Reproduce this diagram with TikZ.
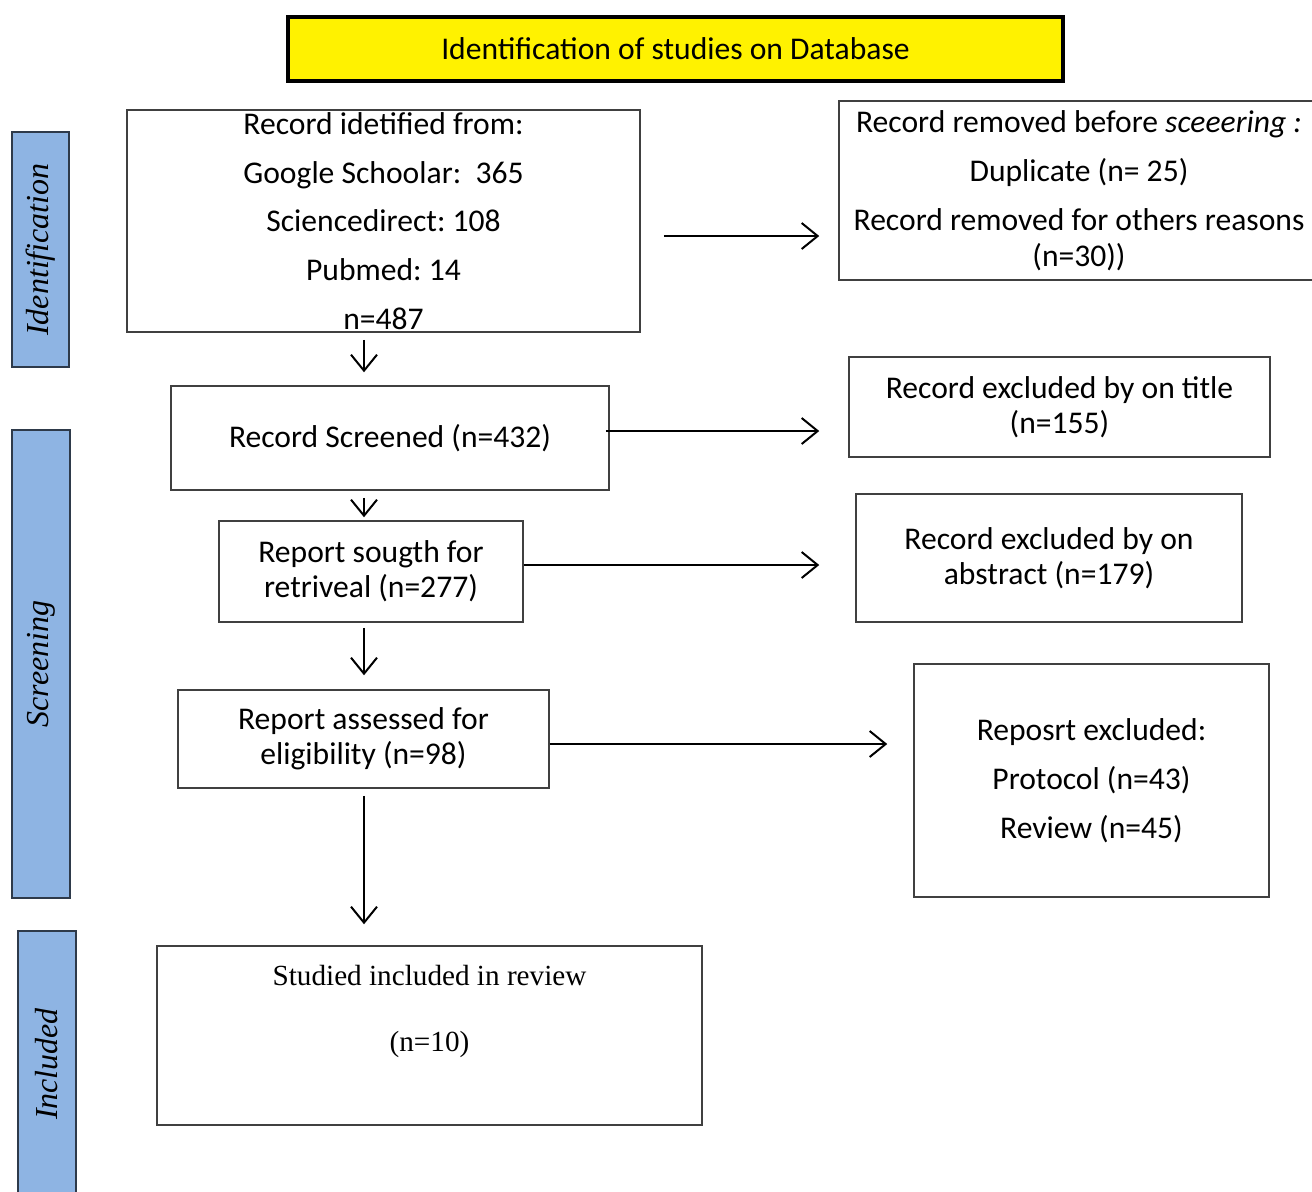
\documentclass[tikz,border=0pt]{standalone}
\usepackage{fontspec}
\setmainfont{Carlito}
\newfontfamily\tms{Liberation Serif}
\usepackage{tikz}
\usetikzlibrary{arrows.meta}

\definecolor{boxgray}{HTML}{404040}
\definecolor{phaseblue}{HTML}{8EB4E3}
\definecolor{phaseline}{HTML}{2E3A4A}

\begin{document}
\frenchspacing
\begin{tikzpicture}[x=0.5pt, y=-0.5pt, >={Straight Barb[length=8pt,width=13pt]}]
  \tikzstyle{box}=[draw=boxgray, line width=0.75pt, align=center, inner sep=0pt,
                   font=\fontsize{15.8}{17.5}\selectfont]
  \tikzstyle{phase}=[draw=phaseline, line width=0.75pt, fill=phaseblue, rotate=90,
                     inner sep=0pt, font=\tms\itshape\fontsize{16}{16}\selectfont]
  \tikzstyle{arr}=[->, line width=1pt]

  \clip (0,0) rectangle (1312,1191);

  % title
  \node[draw=black, line width=2pt, fill=yellow, minimum width=387.5pt, minimum height=32pt,
        font=\fontsize{15.8}{17.5}\selectfont] (db) at (675.5,49) {Identification of studies on Database};

  % phases
  \node[phase, minimum width=117.5pt, minimum height=28.5pt] (pid) at (40.5,249.5) {Identification};
  \node[phase, minimum width=234pt, minimum height=29pt]     (pscr) at (41,664) {Screening};
  \node[phase, minimum width=133pt, minimum height=29pt]     (pinc) at (47,1064) {Included};

  % boxes
  \node[box, minimum width=256.5pt, minimum height=111pt, font=\fontsize{15.8}{24.4}\selectfont]
        (id) at (383.5,221) {Record idetified from:\\Google Schoolar:~ 365\\Sciencedirect: 108\\Pubmed: 14\\n=487};
  \node[box, minimum width=240pt, minimum height=89.5pt, font=\fontsize{15.8}{18}\selectfont]
        (rem) at (1079,190.5) {Record removed before \textit{sceeering :}\\[6.5pt]Duplicate (n= 25)\\[6.5pt]Record removed for others reasons\\(n=30))};
  \node[box, minimum width=219pt, minimum height=52pt]  (scr) at (390,438) {Record Screened (n=432)};
  \node[box, minimum width=210.5pt, minimum height=50pt] (ttl) at (1059.5,407) {Record excluded by on title\\(n=155)};
  \node[box, minimum width=152pt, minimum height=50.5pt] (sgt) at (371,571.5) {Report sougth for\\retriveal (n=277)};
  \node[box, minimum width=193pt, minimum height=64pt]   (abs) at (1049,558) {Record excluded by on\\abstract (n=179)};
  \node[box, minimum width=185.5pt, minimum height=49pt] (elg) at (363.5,739) {Report assessed for\\eligibility (n=98)};
  \node[box, minimum width=177.5pt, minimum height=116.5pt, font=\fontsize{15.8}{24.5}\selectfont]
        (exc) at (1091.5,780.5) {Reposrt excluded:\\Protocol (n=43)\\Review (n=45)};
  \node[box, minimum width=272.5pt, minimum height=89.5pt, font=\tms\fontsize{14.6}{33}\selectfont]
        (inc) at (429.5,1035.5) {Studied included in review\\(n=10)\\[-5.5pt]\mbox{}};

  \coordinate (spine) at (364,0);

  % arrows
  \draw[arr, shorten <=11.5pt, shorten >=9.5pt] (id.east |- 0,236) -- (rem.west |- 0,236);
  \draw[arr, shorten <=3.5pt, shorten >=6.5pt] (spine |- id.south) -- (spine |- scr.north);
  \draw[arr, shorten <=-2pt, shorten >=14.5pt] (scr.east |- 0,431) -- (ttl.west |- 0,431);
  \draw[arr, shorten <=3.5pt, shorten >=1.5pt] (spine |- scr.south) -- (spine |- sgt.north);
  \draw[arr, shorten >=18pt] (sgt.east |- 0,565) -- (abs.west |- 0,565);
  \draw[arr, shorten <=2.5pt, shorten >=7pt] (spine |- sgt.south) -- (spine |- elg.north);
  \draw[arr, shorten >=13pt] (elg.east |- 0,744) -- (exc.west |- 0,744);
  \draw[arr, shorten <=3.5pt, shorten >=10.5pt] (spine |- elg.south) -- (spine |- inc.north);
\end{tikzpicture}
\end{document}
